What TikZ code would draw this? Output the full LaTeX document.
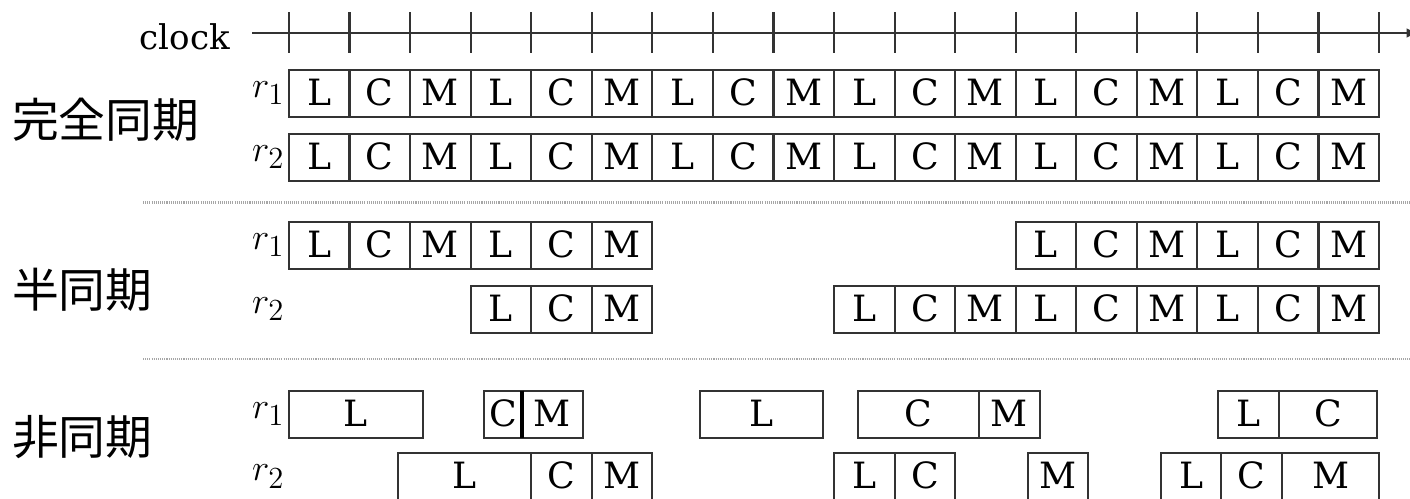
\documentclass[tikz,border=0pt]{standalone}
\usepackage{fontspec}
\setmainfont{DejaVu Serif}
\newfontfamily\cjk{Noto Sans CJK JP}

\begin{document}
\begin{tikzpicture}[
  cell/.style={draw=black!80, line width=1pt, minimum height=0.78cm, inner sep=0pt,
    outer sep=0pt, anchor=west, text height=11.5pt, text depth=0pt,
    font=\fontsize{17}{20}\selectfont},
  clkline/.style={black!80, line width=1pt},
  sepline/.style={gray!70, line width=1.2pt, dash pattern=on 0.5pt off 0.5pt},
  rlab/.style={anchor=east, inner sep=0pt, font=\fontsize{19}{22}\selectfont},
  mode/.style={anchor=west, inner sep=0pt, font=\cjk\fontsize{22}{26}\selectfont}]
\useasboundingbox (-4.772,0) rectangle (18.511,8.240);
% ---- clock axis with one tick per step ----
\node[anchor=base east, inner sep=0pt, font=\fontsize{16}{18}\selectfont] (clk) at (-0.97,7.43) {clock};
\coordinate (c0) at (-0.61,7.695);
\coordinate (c1) at (18.66,7.695);
\draw[clkline, -latex] (c0) -- (c1);
\foreach \k in {0,...,18} \draw[clkline] (\k,8.04) -- (\k,7.36);
% ---- fully synchronous: r1 and r2 run L C M in lock step ----
\node[mode] (full) at (-4.58,6.26) {完全同期};
\node[rlab] (fr1) at (-0.07,6.70) {$r_1$};
\node[rlab] (fr2) at (-0.07,5.64) {$r_2$};
\foreach \y/\r in {6.70/a,5.64/b}
  \foreach \k in {0,...,5} {
    \node[cell, minimum width=1cm] (f\r\k-L) at ({3*\k},\y) {L};
    \node[cell, minimum width=1cm] (f\r\k-C) at ({3*\k+1},\y) {C};
    \node[cell, minimum width=1cm] (f\r\k-M) at ({3*\k+2},\y) {M};
  }
\coordinate (s1a) at (-2.41,4.90);
\coordinate (s1b) at (18.6,4.90);
\draw[sepline] (s1a) -- (s1b);
% ---- semi-synchronous: rounds on the clock, some skipped ----
\node[mode] (semi) at (-4.58,3.45) {半同期};
\node[rlab] (sr1) at (-0.07,4.19) {$r_1$};
\node[rlab] (sr2) at (-0.07,3.13) {$r_2$};
\foreach \k in {0,1,4,5} {
  \node[cell, minimum width=1cm] (sa\k-L) at ({3*\k},4.19) {L};
  \node[cell, minimum width=1cm] (sa\k-C) at ({3*\k+1},4.19) {C};
  \node[cell, minimum width=1cm] (sa\k-M) at ({3*\k+2},4.19) {M};
}
\foreach \k in {1,3,4,5} {
  \node[cell, minimum width=1cm] (sb\k-L) at ({3*\k},3.13) {L};
  \node[cell, minimum width=1cm] (sb\k-C) at ({3*\k+1},3.13) {C};
  \node[cell, minimum width=1cm] (sb\k-M) at ({3*\k+2},3.13) {M};
}
\coordinate (s2a) at (-2.41,2.31);
\coordinate (s2b) at (18.6,2.31);
\draw[sepline] (s2a) -- (s2b);
% ---- asynchronous: phases of any length ----
\node[mode] (async) at (-4.58,1.02) {非同期};
\node[rlab] (ar1) at (-0.07,1.40) {$r_1$};
\node[rlab] (ar2) at (-0.07,0.37) {$r_2$};
% r1
\node[cell, minimum width=2.21cm] (aa-L1) at (0,1.40) {L};
\node[cell, minimum width=0.63cm] (aa-C1) at (3.22,1.40) {C};
\node[cell, minimum width=1.00cm] (aa-M1) at (3.85,1.40) {M};
\draw[line width=1.8pt] (aa-C1.north east) -- (aa-C1.south east);
\node[cell, minimum width=2.03cm] (aa-L2) at (6.79,1.40) {L};
\node[cell, minimum width=1.99cm] (aa-C2) at (9.40,1.40) {C};
\node[cell, minimum width=1.01cm] (aa-M2) at (11.39,1.40) {M};
\node[cell, minimum width=1.01cm] (aa-L3) at (15.34,1.40) {L};
\node[cell, minimum width=1.61cm] (aa-C3) at (16.35,1.40) {C};
% r2
\node[cell, minimum width=2.20cm] (ab-L1) at (1.80,0.37) {L};
\node[cell, minimum width=1cm] (ab-C1) at (4,0.37) {C};
\node[cell, minimum width=1cm] (ab-M1) at (5,0.37) {M};
\node[cell, minimum width=1cm] (ab-L2) at (9,0.37) {L};
\node[cell, minimum width=1cm] (ab-C2) at (10,0.37) {C};
\node[cell, minimum width=0.99cm] (ab-M2) at (12.20,0.37) {M};
\node[cell, minimum width=0.99cm] (ab-L3) at (14.40,0.37) {L};
\node[cell, minimum width=1.01cm] (ab-C3) at (15.39,0.37) {C};
\node[cell, minimum width=1.60cm] (ab-M3) at (16.40,0.37) {M};
\end{tikzpicture}
\end{document}
